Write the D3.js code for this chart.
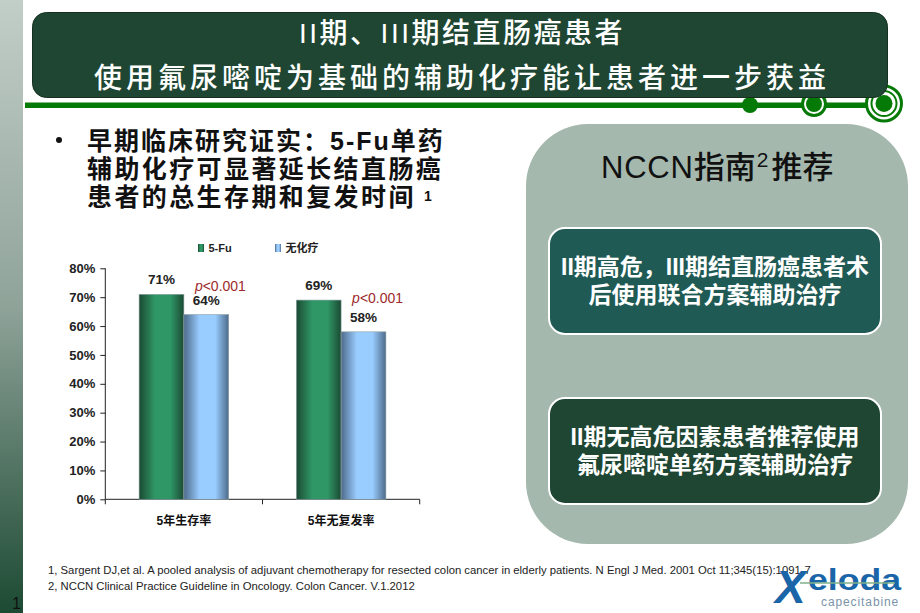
<!DOCTYPE html>
<html lang="zh-CN">
<head>
<meta charset="UTF-8"/>
<title>氟尿嘧啶辅助化疗</title>
<script src="https://d3js.org/d3.v7.min.js"></script>
<style>
  html, body { margin: 0; padding: 0; background: #fff; overflow: hidden; }
  text { font-family: "Liberation Sans", "Noto Sans CJK SC", sans-serif; }
</style>
</head>
<body>
<div id="chart"></div>
<script>
// Chart data
var categories = ["5年生存率", "5年无复发率"];
var seriesNames = ["5-Fu", "无化疗"];
var fuValues = [71, 69];
var noChemoValues = [64, 58];
var pLabels = ["<0.001", "<0.001"];
var yTicks = [0, 10, 20, 30, 40, 50, 60, 70, 80];

// Slide text
var titleLines = ["II期、III期结直肠癌患者", "使用氟尿嘧啶为基础的辅助化疗能让患者进一步获益"];
var bulletLines = ["早期临床研究证实：5-Fu单药", "辅助化疗可显著延长结直肠癌", "患者的总生存期和复发时间"];
var box1Lines = ["II期高危，III期结直肠癌患者术", "后使用联合方案辅助治疗"];
var box2Lines = ["II期无高危因素患者推荐使用", "氟尿嘧啶单药方案辅助治疗"];
var footnotes = [
  "1, Sargent DJ,et al. A pooled analysis of adjuvant chemotherapy for resected colon cancer in elderly patients. N Engl J Med. 2001 Oct 11;345(15):1091-7",
  "2, NCCN Clinical Practice Guideline in Oncology. Colon Cancer. V.1.2012"
];

var w = 920, h = 613;
var svg = d3.select("#chart").append("svg").attr("width", w).attr("height", h).style("display", "block");
var defs = svg.append("defs");

function hGradient(id, edge, mid) {
  var g = defs.append("linearGradient").attr("id", id);
  g.append("stop").attr("offset", "0%").attr("stop-color", edge);
  g.append("stop").attr("offset", "35%").attr("stop-color", mid);
  g.append("stop").attr("offset", "70%").attr("stop-color", mid);
  g.append("stop").attr("offset", "100%").attr("stop-color", edge);
}
hGradient("barGreen", "#1b4a32", "#2f9666");
hGradient("barBlue", "#4d6a8a", "#99ccff");

var strip = defs.append("linearGradient").attr("id", "strip")
  .attr("x1", 0).attr("y1", 0).attr("x2", 0).attr("y2", 1);
strip.append("stop").attr("offset", "0%").attr("stop-color", "#c2cec8");
strip.append("stop").attr("offset", "50%").attr("stop-color", "#8fa399");
strip.append("stop").attr("offset", "100%").attr("stop-color", "#1c4a33");

// left strip
svg.append("rect").attr("x", 0).attr("y", 0).attr("width", 23).attr("height", h).attr("fill", "url(#strip)");
svg.append("text").attr("x", 12).attr("y", 609).attr("font-size", 16).attr("fill", "#111").text("1");

// green rule with the three rings
svg.append("rect").attr("x", 25).attr("y", 102.5).attr("width", 860).attr("height", 5.5).attr("fill", "#067a06");
svg.append("circle").attr("cx", 750).attr("cy", 105).attr("r", 8).attr("fill", "#067a06");
svg.append("circle").attr("cx", 814).attr("cy", 104).attr("r", 11.5).attr("fill", "#fff").attr("stroke", "#067a06").attr("stroke-width", 3);
svg.append("circle").attr("cx", 814).attr("cy", 104).attr("r", 8).attr("fill", "#067a06");
svg.append("circle").attr("cx", 884).attr("cy", 103.5).attr("r", 17.5).attr("fill", "#fff").attr("stroke", "#067a06").attr("stroke-width", 3);
svg.append("circle").attr("cx", 884).attr("cy", 103.5).attr("r", 12.5).attr("fill", "#fff").attr("stroke", "#067a06").attr("stroke-width", 2);
svg.append("circle").attr("cx", 884).attr("cy", 103.5).attr("r", 8.5).attr("fill", "#067a06");

// title banner
svg.append("rect").attr("x", 32.5).attr("y", 12.5).attr("width", 855).attr("height", 85).attr("rx", 14)
  .attr("fill", "#1e4632").attr("stroke", "#15301f");
svg.selectAll("text.title").data(titleLines).enter().append("text")
  .attr("class", "title")
  .attr("x", 462)
  .attr("y", function(d, i) { return i === 0 ? 43 : 88; })
  .attr("text-anchor", "middle")
  .attr("font-size", 28)
  .attr("font-weight", 500)
  .attr("letter-spacing", function(d, i) { return i === 0 ? 2.5 : 4; })
  .attr("fill", "#fff")
  .text(function(d) { return d; });

// bullet paragraph
svg.append("circle").attr("cx", 59).attr("cy", 140).attr("r", 3).attr("fill", "#111");
svg.selectAll("text.bullet").data(bulletLines).enter().append("text")
  .attr("class", "bullet")
  .attr("x", 87)
  .attr("y", function(d, i) { return 150 + i * 28; })
  .attr("font-size", 25)
  .attr("font-weight", "bold")
  .attr("letter-spacing", function(d, i) { return i === 0 ? 2 : 2.4; })
  .attr("fill", "#111")
  .text(function(d) { return d; });
svg.append("text").attr("x", 424).attr("y", 201).attr("font-size", 14).attr("font-weight", "bold").attr("fill", "#111").text("1");

// chart
var x0 = d3.scaleBand().domain(categories).range([105.3, 419.7]).paddingInner(0).paddingOuter(0);
var groupPad = 33.8;
var x1 = d3.scaleBand().domain(seriesNames).range([groupPad, x0.bandwidth() - groupPad]);
var y = d3.scaleLinear().domain([0, 80]).range([499.3, 268.3]);

var yAxis = d3.axisLeft(y).tickValues(yTicks).tickSize(5).tickPadding(5).tickFormat(function(d) { return d + "%"; });
var gy = svg.append("g").attr("transform", "translate(105.3,0)").call(yAxis);
gy.selectAll("text").attr("font-size", 13).attr("font-weight", "bold").attr("fill", "#222");
gy.selectAll("path, line").attr("stroke", "#222");
gy.select("path").attr("d", "M0," + y(80) + "V" + y(0));
gy.selectAll("text").style("font-family", '"Liberation Sans", sans-serif');

var xAxis = d3.axisBottom(x0).tickSize(0).tickPadding(17);
var gx = svg.append("g").attr("transform", "translate(0,499.3)").call(xAxis);
gx.select("path").attr("stroke", "#222").attr("d", "M105.3,0H419.7");
gx.selectAll("text").attr("font-size", 12).attr("font-weight", "bold").attr("fill", "#111").attr("dy", "0.71em");
// tick marks sit between the categories, not under them
gx.selectAll("line.sep").data(d3.range(categories.length + 1)).enter().append("line")
  .attr("class", "sep")
  .attr("x1", function(d) { return 105.3 + d * x0.bandwidth(); })
  .attr("x2", function(d) { return 105.3 + d * x0.bandwidth(); })
  .attr("y1", 0).attr("y2", 5).attr("stroke", "#222");

var seriesValues = [fuValues, noChemoValues];
var fills = ["url(#barGreen)", "url(#barBlue)"];
seriesNames.forEach(function(name, s) {
  var g = svg.append("g");
  g.selectAll("rect").data(seriesValues[s]).enter().append("rect")
    .attr("x", function(d, i) { return x0(categories[i]) + x1(name); })
    .attr("y", function(d) { return y(d); })
    .attr("width", x1.bandwidth())
    .attr("height", function(d) { return y(0) - y(d); })
    .attr("fill", fills[s])
    .attr("stroke", "#8fa3a8")
    .attr("stroke-width", 0.6);
  g.selectAll("text").data(seriesValues[s]).enter().append("text")
    .attr("x", function(d, i) { return x0(categories[i]) + x1(name) + x1.bandwidth() / 2; })
    .attr("y", function(d) { return y(d) - 10; })
    .attr("text-anchor", "middle")
    .attr("font-size", 13.5)
    .attr("font-weight", "bold")
    .attr("fill", "#222")
    .text(function(d) { return d + "%"; });
});

// p value labels, above the no-chemo bars
var pText = svg.selectAll("text.pval").data(pLabels).enter().append("text")
  .attr("class", "pval")
  .attr("x", function(d, i) { return x0(categories[i]) + x1(seriesNames[1]) + 11; })
  .attr("y", function(d, i) { return y(noChemoValues[i]) - (i === 0 ? 24 : 29); })
  .attr("font-size", 14)
  .attr("fill", "#9c2a2a");
pText.append("tspan").attr("font-style", "italic").text("p");
pText.append("tspan").text(function(d) { return d; });

// legend
var legendX = [198, 275];
seriesNames.forEach(function(name, s) {
  svg.append("rect").attr("x", legendX[s]).attr("y", 244).attr("width", 6).attr("height", 8).attr("fill", fills[s]);
  svg.append("text").attr("x", legendX[s] + 10.5).attr("y", 252).attr("font-size", 11).attr("font-weight", "bold")
    .attr("fill", "#222").text(name);
});

// right panel
svg.append("rect").attr("x", 526).attr("y", 124).attr("width", 382).attr("height", 420).attr("rx", 62).attr("fill", "#a5b8ae");
var nccn = svg.append("text").attr("x", 601).attr("y", 178).attr("font-size", 31).attr("font-weight", 500).attr("fill", "#111");
nccn.append("tspan").attr("letter-spacing", 0.8).text("NCCN");
nccn.append("tspan").text("指南");
nccn.append("tspan").attr("dy", -11).attr("dx", 1).attr("font-size", 21).text("2");
nccn.append("tspan").attr("dy", 11).attr("dx", 3).text("推荐");

function infoBox(y0, height, fill, lines, firstBase) {
  svg.append("rect").attr("x", 549).attr("y", y0).attr("width", 332).attr("height", height).attr("rx", 16)
    .attr("fill", fill).attr("stroke", "#fff").attr("stroke-width", 2);
  svg.selectAll(null).data(lines).enter().append("text")
    .attr("x", 715)
    .attr("y", function(d, i) { return firstBase + i * 28; })
    .attr("text-anchor", "middle")
    .attr("font-size", 23)
    .attr("font-weight", "bold")
    .attr("fill", "#fff")
    .text(function(d) { return d; });
}
infoBox(228, 106, "#1f5a54", box1Lines, 275);
infoBox(398, 106, "#1e4632", box2Lines, 445);

// footnotes
svg.selectAll("text.foot").data(footnotes).enter().append("text")
  .attr("class", "foot")
  .attr("x", 48)
  .attr("y", function(d, i) { return 574 + i * 16; })
  .attr("font-size", 11.3)
  .attr("fill", "#222")
  .text(function(d) { return d; });

// product mark
var logo = svg.append("g").attr("fill", "#1a64a8").attr("font-weight", "bold");
logo.append("text").attr("x", 775).attr("y", 603).attr("font-size", 46).attr("font-style", "italic").text("X");
logo.append("text").attr("x", 808).attr("y", 590).attr("font-size", 30).attr("textLength", 93).attr("lengthAdjust", "spacingAndGlyphs").text("eloda");
svg.append("line").attr("x1", 800).attr("x2", 895).attr("y1", 583).attr("y2", 583).attr("stroke", "#7fb08a").attr("stroke-width", 1.5);
svg.append("text").attr("x", 821).attr("y", 606).attr("font-size", 12).attr("letter-spacing", 0.9)
  .attr("fill", "#7a93a8").text("capecitabine");
</script>
</body>
</html>
